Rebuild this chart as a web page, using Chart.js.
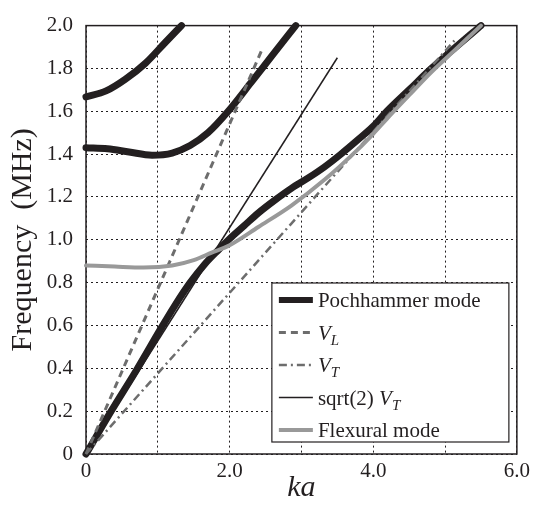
<!DOCTYPE html>
<html>
<head>
<meta charset="utf-8">
<script src="https://cdn.jsdelivr.net/npm/chart.js@4.4.1/dist/chart.umd.min.js"></script>
<style>
  html, body { margin: 0; padding: 0; background: #fff; }
  #wrap { width: 535px; height: 508px; }
</style>
</head>
<body>
<div id="wrap"><canvas id="dispersionChart"></canvas></div>
<script>
// Tick labels
const xTickLabels = ['0', '', '2.0', '', '4.0', '', '6.0'];
const yTickLabels = ['0', '0.2', '0.4', '0.6', '0.8', '1.0', '1.2', '1.4', '1.6', '1.8', '2.0'];

// Pochhammer mode, three branches (ka vs frequency in MHz)
const poch1Ka   = [0, 0.35, 0.7, 1.05, 1.25, 1.45, 1.65, 1.85, 2.0, 2.2, 2.4, 2.63, 2.86, 3.1, 3.32, 3.55, 3.78, 4.0, 4.19, 4.5, 4.81, 5.15, 5.5];
const poch1Freq = [0, 0.2, 0.39, 0.59, 0.70, 0.80, 0.885, 0.955, 1.005, 1.065, 1.125, 1.185, 1.24, 1.29, 1.34, 1.40, 1.465, 1.53, 1.6, 1.7, 1.8, 1.9, 2.0];
const poch2Ka   = [0, 0.3, 0.6, 0.92, 1.2, 1.45, 1.7, 1.98, 2.3, 2.58, 2.92];
const poch2Freq = [1.43, 1.425, 1.41, 1.395, 1.405, 1.44, 1.50, 1.60, 1.735, 1.855, 2.0];
const poch3Ka   = [0, 0.28, 0.55, 0.83, 1.10, 1.33];
const poch3Freq = [1.667, 1.695, 1.75, 1.825, 1.92, 2.0];

// Flexural mode
const flexKa   = [0, 0.4, 0.8, 1.2, 1.5, 1.75, 2.0, 2.4, 2.86, 3.32, 3.78, 4.0, 4.19, 4.5, 4.8, 5.15, 5.5];
const flexFreq = [0.88, 0.875, 0.871, 0.88, 0.905, 0.94, 0.975, 1.06, 1.16, 1.28, 1.42, 1.495, 1.565, 1.675, 1.78, 1.89, 2.0];

// Velocity lines
const vlKa = [0, 2.46],    vlFreq = [0, 1.895];
const vtKa = [0, 5.13],    vtFreq = [0, 1.93];
const s2Ka = [0, 3.5],     s2Freq = [0, 1.85];

const ink = '#231f20';
const serif = "'Liberation Serif', 'Times New Roman', serif";

function pts(xs, ys) {
    return xs.map((x, i) => ({ x: x, y: ys[i] }));
}

const pochStyle = { borderColor: ink, borderWidth: 7, borderCapStyle: 'round', borderJoinStyle: 'round' };
const flexStyle = { borderColor: '#999999', borderWidth: 4, borderCapStyle: 'round' };
const vlStyle = { borderColor: '#6d6d6d', borderWidth: 3, borderDash: [7, 5] };
const vtStyle = { borderColor: '#6d6d6d', borderWidth: 2.5, borderDash: [8, 4, 2, 4] };
const s2Style = { borderColor: ink, borderWidth: 1.5 };

function series(data, style, order) {
    return Object.assign({
        data: data,
        pointRadius: 0,
        fill: false,
        cubicInterpolationMode: 'monotone',
        clip: false,
        order: order
    }, style);
}

// legend rows: parts are [text, kind] with kind n=normal, i=italic, s=subscript
const legendRows = [
    { parts: [['Pochhammer mode', 'n']], style: pochStyle },
    { parts: [['V', 'i'], ['L', 's']], style: vlStyle },
    { parts: [['V', 'i'], ['T', 's']], style: vtStyle },
    { parts: [['sqrt(2) ', 'n'], ['V', 'i'], ['T', 's']], style: s2Style },
    { parts: [['Flexural mode', 'n']], style: flexStyle }
];

const framePlugin = {
    id: 'frame',
    beforeDatasetsDraw(chart) {
        const a = chart.chartArea, ctx = chart.ctx;
        ctx.save();
        ctx.strokeStyle = ink;
        ctx.lineWidth = 1.5;
        ctx.strokeRect(a.left, a.top, a.right - a.left, a.bottom - a.top);
        ctx.restore();
    }
};

const legendPlugin = {
    id: 'boxLegend',
    afterDraw(chart) {
        const a = chart.chartArea, ctx = chart.ctx;
        const w = 237, h = 159;
        const x0 = a.right - 8 - w, y0 = a.bottom - 12 - h;
        ctx.save();
        ctx.fillStyle = '#fff';
        ctx.fillRect(x0, y0, w, h);
        ctx.strokeStyle = ink;
        ctx.lineWidth = 1.2;
        ctx.strokeRect(x0, y0, w, h);
        legendRows.forEach((row, i) => {
            const cy = y0 + 17 + i * 32.5;
            const s = row.style;
            ctx.save();
            ctx.strokeStyle = s.borderColor;
            ctx.lineWidth = Math.min(s.borderWidth, 6);
            ctx.setLineDash(s.borderDash || []);
            ctx.beginPath();
            ctx.moveTo(x0 + 7, cy);
            ctx.lineTo(x0 + 41, cy);
            ctx.stroke();
            ctx.restore();
            let tx = x0 + 46;
            ctx.fillStyle = ink;
            ctx.textBaseline = 'alphabetic';
            row.parts.forEach(p => {
                if (p[1] === 's') {
                    ctx.font = 'italic 15px ' + serif;
                    ctx.fillText(p[0], tx, cy + 12);
                } else {
                    ctx.font = (p[1] === 'i' ? 'italic ' : '') + '21px ' + serif;
                    ctx.fillText(p[0], tx, cy + 7);
                }
                tx += ctx.measureText(p[0]).width;
            });
        });
        ctx.restore();
    }
};

new Chart(document.getElementById('dispersionChart'), {
    type: 'line',
    data: {
        datasets: [
            series(pts(flexKa, flexFreq), flexStyle, 1),
            series(pts(vlKa, vlFreq), vlStyle, 2),
            series(pts(vtKa, vtFreq), vtStyle, 3),
            series(pts(s2Ka, s2Freq), s2Style, 4),
            series(pts(poch1Ka, poch1Freq), pochStyle, 5),
            series(pts(poch2Ka, poch2Freq), pochStyle, 5),
            series(pts(poch3Ka, poch3Freq), pochStyle, 5)
        ]
    },
    options: {
        responsive: true,
        maintainAspectRatio: false,
        animation: false,
        layout: { padding: { top: 15, right: 14, left: 0, bottom: 0 } },
        plugins: {
            legend: { display: false },
            tooltip: { enabled: false }
        },
        scales: {
            x: {
                type: 'linear',
                min: 0,
                max: 6,
                border: { display: false, dash: [2, 3] },
                grid: { color: ink, lineWidth: 1, drawTicks: false },
                ticks: {
                    stepSize: 1,
                    padding: 5,
                    color: ink,
                    font: { family: serif, size: 21 },
                    callback: (v, i) => xTickLabels[i]
                },
                title: {
                    display: true,
                    text: 'ka',
                    color: ink,
                    align: 'center',
                    padding: { top: 2, bottom: 2 },
                    font: { family: serif, size: 30, style: 'italic' }
                },
                afterFit: s => { s.height = 54; }
            },
            y: {
                min: 0,
                max: 2,
                border: { display: false, dash: [2, 3] },
                grid: { color: ink, lineWidth: 1, drawTicks: false },
                ticks: {
                    stepSize: 0.2,
                    padding: 13,
                    color: ink,
                    font: { family: serif, size: 21 },
                    callback: (v, i) => yTickLabels[i]
                },
                title: {
                    display: true,
                    text: 'Frequency  (MHz)',
                    color: ink,
                    padding: { top: 5, bottom: 0 },
                    font: { family: serif, size: 30 }
                },
                afterFit: s => { s.width = 86; }
            }
        }
    },
    plugins: [framePlugin, legendPlugin]
});
</script>
</body>
</html>
